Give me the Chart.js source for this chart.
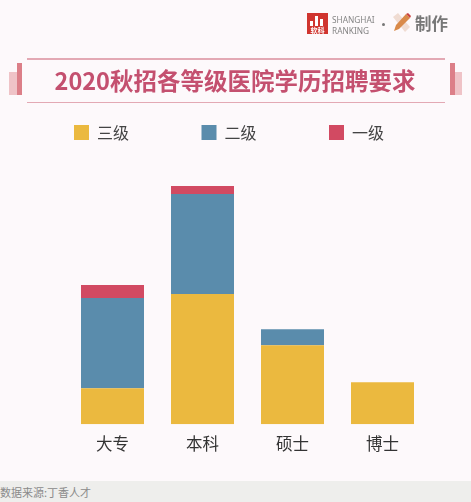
<!DOCTYPE html>
<html lang="zh">
<head>
<meta charset="utf-8">
<title>2020秋招各等级医院学历招聘要求</title>
<script src="https://cdn.jsdelivr.net/npm/chart.js@4"></script>
<style>
  html, body { margin: 0; padding: 0; background: #fdf9fb; }
  body { position: relative; width: 471px; height: 502px; overflow: hidden; font-family: "Noto Sans CJK SC", "Noto Sans", sans-serif; }
  #chart { position: absolute; left: 0; top: 0; }
  .abs { position: absolute; white-space: nowrap; }
  #title { left: 0; width: 470px; top: 63px; text-align: center; font-size: 23.5px; line-height: 34px; font-weight: 700; color: #c4506f; }
  .rule { left: 27px; width: 418px; height: 1.5px; background: #e3a9b4; }
  #footer { left: 0; top: 481px; width: 471px; height: 21px; background: #eeeeec; }
  #source { left: 0; top: 484px; font-size: 11px; line-height: 16px; color: #8a8a8a; }
  #logo { left: 307px; top: 13px; width: 21px; height: 21px; background: #d0352f; color: #fff; font-size: 7px; line-height: 8px; text-align: center; }
  #logo span { position: absolute; left: 0; right: 0; bottom: 0; font-weight: 700; }
  #logo i { position: absolute; width: 3px; background: #fff; bottom: 8px; }
  #brand { left: 332px; top: 15px; font-family: "Noto Sans", sans-serif; font-size: 8.3px; line-height: 10.5px; color: #858585; }
  #dot { left: 382px; top: 23px; width: 3px; height: 3px; border-radius: 50%; background: #777; }
  #made { left: 415px; top: 11px; font-size: 16.5px; line-height: 25px; font-weight: 700; color: #777; }
</style>
</head>
<body>
<canvas id="chart" width="471" height="481"></canvas>

<div class="abs rule" style="top:58px"></div>
<div class="abs rule" style="top:101.5px"></div>
<div class="abs" style="left:17px;top:63px;width:5px;height:32px;background:#dc7f88"></div>
<div class="abs" style="left:9px;top:72px;width:8px;height:23px;background:#efc3c7"></div>
<div class="abs" style="left:450px;top:63px;width:5px;height:32px;background:#dc7f88"></div>
<div class="abs" style="left:455px;top:72px;width:7px;height:23px;background:#efc3c7"></div>
<div id="title" class="abs">2020秋招各等级医院学历招聘要求</div>

<div id="logo" class="abs">
  <i style="left:3px;height:5px"></i><i style="left:8px;height:10px"></i><i style="left:13px;height:7px"></i>
  <span>软科</span>
</div>
<div id="brand" class="abs">SHANGHAI<br>RANKING</div>
<div id="dot" class="abs"></div>
<svg class="abs" style="left:392px;top:12px" width="20" height="21" viewBox="0 0 20 21">
  <path d="M1 5 L6 1 L18 15 L13 20 Z" fill="#f0dcd2"/>
  <path d="M2 19 L4 13 L14 2 L18 6 L7 17 Z" fill="#d98a4a"/>
  <path d="M14 2 L16 1 L19 4 L18 6 Z" fill="#c9423f"/>
</svg>
<div id="made" class="abs">制作</div>

<div id="footer" class="abs"></div>
<div id="source" class="abs">数据来源:丁香人才</div>

<script>
const categories = ['大专', '本科', '硕士', '博士'];
const seriesNames = ['三级', '二级', '一级'];
const sanji = [36, 130, 79, 42];
const erji = [90, 100, 16, 0];
const yiji = [13, 8, 0, 0];
const seriesColors = ['#ebb93f', '#5a8cac', '#d24a62'];

const chart = new Chart(document.getElementById('chart'), {
    type: 'bar',
    data: {
        labels: categories,
        datasets: [sanji, erji, yiji].map((values, i) => ({
            label: seriesNames[i],
            data: values,
            backgroundColor: seriesColors[i],
            borderWidth: 0,
            barPercentage: 0.7,
            categoryPercentage: 1
        }))
    },
    options: {
        responsive: false,
        animation: false,
        layout: { padding: { top: 52, left: 1.5, right: 0, bottom: 17 } },
        plugins: {
            tooltip: { enabled: false },
            legend: {
                position: 'top',
                align: 'start',
                labels: {
                    boxWidth: 15,
                    boxHeight: 15,
                    padding: 72.5,
                    color: '#444',
                    font: { size: 16, family: '"Noto Sans CJK SC"' }
                }
            }
        },
        scales: {
            x: {
                stacked: true,
                grid: { display: false, drawTicks: false },
                border: { display: false },
                ticks: {
                    padding: 10,
                    maxRotation: 0,
                    color: '#333',
                    font: { size: 16.5, family: '"Noto Sans CJK SC"' }
                }
            },
            y: {
                stacked: true,
                min: 0,
                max: 273.5,
                grid: { display: false },
                border: { display: false },
                ticks: { display: false },
                afterFit: function (axis) { axis.width = 66; }
            },
            // empty axis, only keeps the gutter on the right
            y2: {
                position: 'right',
                grid: { display: false },
                border: { display: false },
                ticks: { display: false },
                afterFit: function (axis) { axis.width = 43.5; }
            }
        }
    }
});
</script>
</body>
</html>
